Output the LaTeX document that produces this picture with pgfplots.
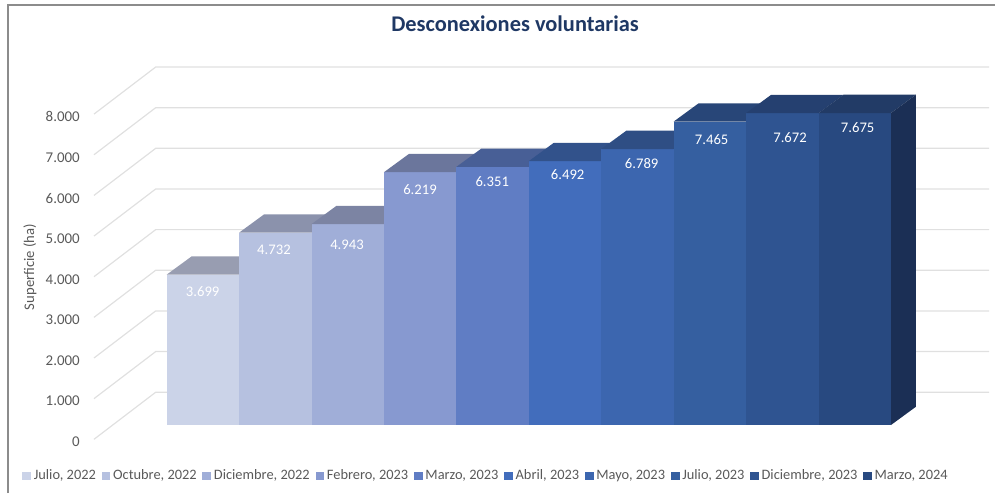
\documentclass[border=0pt]{standalone}
\usepackage{fontspec}
\setmainfont{Carlito}
\usepackage{pgfplots}
\pgfplotsset{compat=1.18}
\definecolor{gridc}{HTML}{E0E0E0}
\definecolor{txt}{HTML}{595959}
\definecolor{frame}{HTML}{8C8C8C}
\definecolor{ttl}{HTML}{1F3864}
\definecolor{fa}{RGB}{203,211,232}\definecolor{ta}{RGB}{152,157,177}
\definecolor{fb}{RGB}{182,193,224}\definecolor{tb}{RGB}{139,146,172}
\definecolor{fc}{RGB}{160,174,216}\definecolor{tc}{RGB}{124,132,163}
\definecolor{fd}{RGB}{135,153,208}\definecolor{td}{RGB}{107,118,156}
\definecolor{fe}{RGB}{96,125,196}\definecolor{te}{RGB}{72,95,150}
\definecolor{ff}{RGB}{66,109,188}\definecolor{tf}{RGB}{50,82,139}
\definecolor{fg}{RGB}{60,102,175}\definecolor{tg}{RGB}{47,78,132}
\definecolor{fh}{RGB}{53,95,160}\definecolor{th}{RGB}{40,70,120}
\definecolor{fi}{RGB}{47,84,145}\definecolor{ti}{RGB}{37,64,112}
\definecolor{fj}{RGB}{40,73,128}\definecolor{tj}{RGB}{34,59,102}
\definecolor{sj}{RGB}{27,47,85}
\pgfplotsset{
  onebar/.style={ybar, bar width=1, bar shift=0pt, draw=none, fill=#1,
    legend image code/.code={\fill[#1] (0pt,-3.2pt) rectangle (6.6pt,3.2pt);}},
  face/.style={draw=none, fill=#1, forget plot},
  gl/.style={draw=gridc, line width=0.9pt, forget plot},
}
\begin{document}
\begin{tikzpicture}
\useasboundingbox (0,0) rectangle (746.25pt,369.75pt);
% y axis with its tick labels
\begin{axis}[
  at={(65.5pt,38.4pt)}, anchor=south west, scale only axis,
  width=675pt, height=243.75pt,
  xmin=0, xmax=1, ymin=0, ymax=8000,
  axis x line=none, axis y line=left,
  axis line style={draw=none}, major tick style={draw=none},
  ytick={0,1000,...,8000},
  yticklabel style={font=\fontsize{11.2}{12}\selectfont, text=txt, /pgf/number format/assume math mode=true, /pgf/number format/.cd, 1000 sep={.}},
]
\addplot[draw=none] coordinates {(0,0)(1,8000)};
\end{axis}
\begin{axis}[
  at={(0,0)}, anchor=south west, scale only axis,
  width=746.25pt, height=369.75pt,
  xmin=-2.3015, xmax=11.436, ymin=-1672.8, ymax=10455.1,
  axis lines=none, ticks=none, clip=false,
  legend columns=10, legend cell align=left,
  legend style={at={(axis cs:-1.997,-1250)}, anchor=west, draw=none, fill=none, inner sep=0pt,
    font=\fontsize{10.8}{12}\selectfont\color{txt},
    /tikz/every even column/.style={column sep=2.3pt}},
]
% grid: side wall and back wall
\addplot[gl] coordinates {(-1.004,-352)(-0.152,806)(11.355,806)};
\addplot[gl] coordinates {(-1.004,648)(-0.152,1806)(11.355,1806)};
\addplot[gl] coordinates {(-1.004,1648)(-0.152,2806)(11.355,2806)};
\addplot[gl] coordinates {(-1.004,2648)(-0.152,3806)(11.355,3806)};
\addplot[gl] coordinates {(-1.004,3648)(-0.152,4806)(11.355,4806)};
\addplot[gl] coordinates {(-1.004,4648)(-0.152,5806)(11.355,5806)};
\addplot[gl] coordinates {(-1.004,5648)(-0.152,6806)(11.355,6806)};
\addplot[gl] coordinates {(-1.004,6648)(-0.152,7806)(11.355,7806)};
\addplot[gl] coordinates {(-1.004,7648)(-0.152,8806)(11.355,8806)};
% bars: front face, then top face
\addplot[onebar=fa] coordinates {(0.5,3699)}; \addlegendentry{Julio, 2022}
\addplot[face=ta] coordinates {(0,3699)(1,3699)(1.345,4149)(0.345,4149)};
\addplot[onebar=fb] coordinates {(1.5,4732)}; \addlegendentry{Octubre, 2022}
\addplot[face=tb] coordinates {(1,4732)(2,4732)(2.345,5182)(1.345,5182)};
\addplot[onebar=fc] coordinates {(2.5,4943)}; \addlegendentry{Diciembre, 2022}
\addplot[face=tc] coordinates {(2,4943)(3,4943)(3.345,5393)(2.345,5393)};
\addplot[onebar=fd] coordinates {(3.5,6219)}; \addlegendentry{Febrero, 2023}
\addplot[face=td] coordinates {(3,6219)(4,6219)(4.345,6669)(3.345,6669)};
\addplot[onebar=fe] coordinates {(4.5,6351)}; \addlegendentry{Marzo, 2023}
\addplot[face=te] coordinates {(4,6351)(5,6351)(5.345,6801)(4.345,6801)};
\addplot[onebar=ff] coordinates {(5.5,6492)}; \addlegendentry{Abril, 2023}
\addplot[face=tf] coordinates {(5,6492)(6,6492)(6.345,6942)(5.345,6942)};
\addplot[onebar=fg] coordinates {(6.5,6789)}; \addlegendentry{Mayo, 2023}
\addplot[face=tg] coordinates {(6,6789)(7,6789)(7.345,7239)(6.345,7239)};
\addplot[onebar=fh] coordinates {(7.5,7465)}; \addlegendentry{Julio, 2023}
\addplot[face=th] coordinates {(7,7465)(8,7465)(8.345,7915)(7.345,7915)};
\addplot[onebar=fi] coordinates {(8.5,7672)}; \addlegendentry{Diciembre, 2023}
\addplot[face=ti] coordinates {(8,7672)(9,7672)(9.345,8122)(8.345,8122)};
\addplot[onebar=fj] coordinates {(9.5,7675)}; \addlegendentry{Marzo, 2024}
\addplot[face=tj] coordinates {(9,7675)(10,7675)(10.345,8125)(9.345,8125)};
\addplot[face=sj] coordinates {(10,0)(10,7675)(10.345,8125)(10.345,450)};
% data labels
\begin{scope}[every node/.style={text=white, font=\fontsize{11}{12}\selectfont}]
\node at (axis cs:0.497,3284) {3.699};
\node at (axis cs:1.481,4317) {4.732};
\node at (axis cs:2.489,4428) {4.943};
\node at (axis cs:3.497,5781) {6.219};
\node at (axis cs:4.495,5985) {6.351};
\node at (axis cs:5.536,6150) {6.492};
\node at (axis cs:6.558,6421) {6.789};
\node at (axis cs:7.524,7018) {7.465};
\node at (axis cs:8.606,7070) {7.672};
\node at (axis cs:9.540,7314) {7.675};
\end{scope}
\node[rotate=90, text=txt, font=\fontsize{11}{12}\selectfont] at (axis cs:-1.887,3887) {Superficie (ha)};
\node[text=ttl, font=\fontsize{16.8}{18}\selectfont\bfseries] at (axis cs:4.81,9865) {Desconexiones voluntarias};
\end{axis}
% frame: top and left edges only
\draw[frame, line width=1pt] (6pt,0) -- (6pt,366pt) -- (746.25pt,366pt);
\end{tikzpicture}
\end{document}
